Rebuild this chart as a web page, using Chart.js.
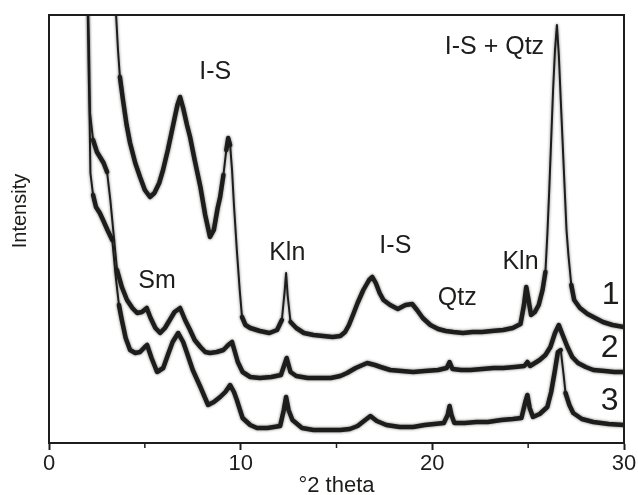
<!DOCTYPE html>
<html>
<head>
<meta charset="utf-8">
<script src="https://cdn.jsdelivr.net/npm/chart.js@4/dist/chart.umd.min.js"></script>
<style>
  html, body { margin: 0; padding: 0; background: #fff; }
</style>
</head>
<body>
<canvas id="xrd" width="638" height="495"></canvas>
<script>
// XRD patterns, °2θ vs intensity (arbitrary units)
const theta1 = [3.40, 3.50, 3.60, 3.70, 3.86, 4.05, 4.23, 4.50, 4.75, 5.00, 5.27, 5.50, 5.75, 5.95, 6.20, 6.50, 6.70, 6.84, 7.00, 7.20,
  7.36, 7.60, 7.90, 8.15, 8.40, 8.60, 8.80, 8.93, 9.10, 9.25, 9.35, 9.45, 9.55, 9.65, 9.80, 9.95, 10.07, 10.25, 10.5, 11.0,
  11.5, 11.9, 12.15, 12.3, 12.37, 12.45, 12.6, 12.9, 13.3, 13.8, 14.3, 14.8, 15.2, 15.45, 15.65, 15.9, 16.1, 16.4, 16.7, 16.87,
  17.05, 17.25, 17.45, 17.8, 18.2, 18.6, 18.95, 19.2, 19.5, 19.9, 20.3, 20.7, 21.1, 21.6, 22.1, 22.6, 23.1, 23.7, 24.2, 24.6,
  24.78, 24.9, 25.02, 25.15, 25.35, 25.55, 25.75, 25.9, 26.0, 26.1, 26.2, 26.3, 26.4, 26.5, 26.6, 26.7, 26.85, 27.0, 27.1, 27.25,
  27.4, 27.7, 28.1, 28.5, 28.9, 29.4, 30.0];
const int1 = [463, 428, 393, 366, 343, 318, 300, 280, 266, 253, 246, 250, 260, 273, 293, 320, 338, 346, 335, 318,
  306, 283, 256, 228, 206, 213, 235, 246, 268, 293, 305, 298, 273, 238, 193, 153, 126, 118, 115, 112,
  110, 113, 123, 153, 170, 148, 121, 115, 110, 108, 107, 106, 107, 111, 118, 130, 140, 153, 163, 166,
  160, 150, 143, 138, 134, 138, 139, 133, 125, 118, 114, 112, 111, 110, 111, 111, 112, 113, 115, 119,
  138, 156, 143, 128, 131, 138, 153, 171, 208, 253, 303, 353, 393, 418, 388, 343, 278, 213, 188, 158,
  143, 135, 129, 125, 121, 118, 116];

const theta2 = [2.00, 2.08, 2.14, 2.30, 2.50, 2.66, 2.85, 3.03, 3.20, 3.35, 3.45, 3.55, 3.80, 4.07, 4.35, 4.60, 4.85, 5.10, 5.30, 5.55,
  5.80, 6.05, 6.30, 6.55, 6.84, 7.10, 7.36, 7.60, 7.90, 8.15, 8.40, 8.75, 9.10, 9.35, 9.55, 9.70, 9.85, 10.1, 10.5, 11.0,
  11.6, 12.1, 12.4, 12.6, 12.9, 13.5, 14.1, 14.7, 15.2, 15.55, 16.0, 16.6, 17.0, 17.3, 17.8, 18.4, 19.0, 19.6, 20.3, 20.75,
  20.9, 21.05, 21.5, 22.0, 22.6, 23.2, 23.7, 24.3, 24.8, 24.96, 25.1, 25.6, 25.9, 26.16, 26.4, 26.6, 26.8, 27.05, 27.3, 27.6,
  28.0, 28.4, 29.0, 29.5, 30.0];
const int2 = [463, 403, 330, 303, 291, 286, 280, 271, 243, 213, 193, 173, 156, 143, 135, 130, 131, 135, 125, 115,
  110, 115, 123, 131, 135, 123, 113, 103, 96, 91, 90, 91, 93, 98, 101, 91, 81, 71, 66, 65,
  66, 68, 85, 71, 67, 65, 65, 65, 67, 70, 75, 80, 78, 76, 73, 72, 71, 72, 73, 75,
  81, 74, 73, 73, 74, 75, 75, 76, 77, 81, 77, 83, 88, 96, 110, 118, 108, 96, 86, 80,
  76, 73, 72, 71, 71];

const theta3 = [2.00, 2.06, 2.12, 2.16, 2.30, 2.45, 2.65, 2.82, 3.05, 3.30, 3.50, 3.65, 3.80, 4.00, 4.23, 4.50, 4.75, 5.00, 5.12, 5.35,
  5.64, 5.96, 6.20, 6.45, 6.74, 7.00, 7.20, 7.50, 7.90, 8.30, 8.60, 8.93, 9.20, 9.45, 9.65, 9.80, 10.1, 10.5, 10.85, 11.4,
  12.06, 12.25, 12.37, 12.5, 12.7, 13.2, 13.8, 14.5, 15.2, 15.7, 16.1, 16.5, 16.77, 17.1, 17.6, 18.3, 19.0, 19.6, 20.1, 20.6,
  20.8, 20.9, 21.0, 21.15, 21.7, 22.3, 22.9, 23.6, 24.2, 24.65, 24.85, 24.96, 25.08, 25.25, 25.6, 26.0, 26.2, 26.4, 26.55, 26.7,
  26.85, 26.95, 27.15, 27.35, 27.8, 28.4, 29.2, 30.0];
const int3 = [463, 383, 323, 270, 248, 236, 230, 223, 213, 203, 163, 138, 123, 105, 93, 90, 91, 96, 98, 85,
  71, 75, 88, 101, 110, 101, 90, 73, 56, 38, 41, 46, 51, 58, 51, 43, 25, 18, 15, 15,
  17, 33, 46, 33, 23, 15, 13, 13, 13, 14, 17, 23, 27, 22, 18, 16, 16, 18, 19, 20,
  28, 37, 28, 20, 20, 21, 21, 23, 24, 25, 41, 48, 35, 26, 29, 36, 51, 73, 91, 93,
  68, 50, 38, 30, 24, 21, 19, 18];

// peak labels
const peakNames = ['I-S', 'I-S + Qtz', 'Kln', 'I-S', 'Qtz', 'Kln', 'Sm'];
const peakTheta = [8.67, 23.24, 12.43, 18.07, 21.3, 24.6, 5.64];
const peakInt = [371, 396, 190, 197, 145, 181, 162];

// sample numbers at the right end
const sampleNames = ['1', '2', '3'];
const sampleTheta = [29.3, 29.25, 29.25];
const sampleInt = [148, 95, 42];

const xTicks = [0, 10, 20, 30];
const xMinor = [5, 15, 25];

const ink = '#1d1d1b';
const fontFam = '"Liberation Sans", Arial, sans-serif';

function pattern(theta, inten) {
  return {
    data: theta.map((t, i) => ({ x: t, y: inten[i] })),
    borderColor: ink,
    borderWidth: 4.5,
    pointRadius: 0,
    tension: 0,
    borderJoinStyle: 'round',
    borderCapStyle: 'round',
    segment: {
      // steep flanks are thin in the original, the noisy flats are thick
      borderWidth: c => Math.abs(c.p1.y - c.p0.y) > 8 * Math.abs(c.p1.x - c.p0.x) ? 2 : 4.5
    }
  };
}

// soft grey fringe, like the counting noise around the traces
const fuzzPlugin = {
  id: 'fuzz',
  beforeDatasetsDraw(chart) {
    chart.ctx.save();
    chart.ctx.shadowColor = 'rgba(0,0,0,0.55)';
    chart.ctx.shadowBlur = 3;
  },
  afterDatasetsDraw(chart) {
    chart.ctx.restore();
  }
};

const framePlugin = {
  id: 'frame',
  afterDraw(chart) {
    const { ctx, chartArea: a, scales } = chart;
    ctx.save();
    ctx.strokeStyle = ink;
    ctx.lineWidth = 2;
    ctx.beginPath();
    ctx.moveTo(a.left, a.top);
    ctx.lineTo(a.right, a.top);
    ctx.lineTo(a.right, a.bottom);
    ctx.stroke();
    // minor ticks
    ctx.lineWidth = 1.5;
    xMinor.forEach(v => {
      const x = scales.x.getPixelForValue(v);
      ctx.beginPath();
      ctx.moveTo(x, a.bottom);
      ctx.lineTo(x, a.bottom + 5);
      ctx.stroke();
    });
    // labels
    ctx.fillStyle = ink;
    ctx.textAlign = 'center';
    ctx.textBaseline = 'middle';
    ctx.font = '25px ' + fontFam;
    peakNames.forEach((s, i) => {
      ctx.fillText(s, scales.x.getPixelForValue(peakTheta[i]), scales.y.getPixelForValue(peakInt[i]));
    });
    ctx.font = '32px ' + fontFam;
    sampleNames.forEach((s, i) => {
      ctx.fillText(s, scales.x.getPixelForValue(sampleTheta[i]), scales.y.getPixelForValue(sampleInt[i]));
    });
    // y axis title sits above the middle in the original
    ctx.font = '20px ' + fontFam;
    ctx.translate(20, 211);
    ctx.rotate(-Math.PI / 2);
    ctx.fillText('Intensity', 0, 0);
    ctx.restore();
  }
};

new Chart(document.getElementById('xrd'), {
  type: 'line',
  data: {
    datasets: [pattern(theta1, int1), pattern(theta2, int2), pattern(theta3, int3)]
  },
  options: {
    responsive: false,
    animation: false,
    events: [],
    layout: { padding: { top: 15, right: 14, left: 0, bottom: 0 } },
    plugins: { legend: { display: false }, tooltip: { enabled: false } },
    scales: {
      x: {
        type: 'linear',
        min: 0,
        max: 30,
        afterFit(s) { s.height = 52; },
        afterBuildTicks(s) { s.ticks = xTicks.map(v => ({ value: v })); },
        border: { display: true, color: ink, width: 2 },
        grid: { display: true, drawOnChartArea: false, drawTicks: true, tickLength: 7, tickWidth: 2, tickColor: ink },
        ticks: { color: ink, padding: 1, maxRotation: 0, font: { family: fontFam, size: 22 } },
        title: {
          display: true, text: '°2 theta', color: ink,
          font: { family: fontFam, size: 22, lineHeight: 0.8 },
          padding: { top: 0, bottom: 0 }
        }
      },
      y: {
        type: 'linear',
        min: 0,
        max: 428,
        afterFit(s) { s.width = 49; },
        border: { display: true, color: ink, width: 2 },
        grid: { display: false },
        ticks: { display: false }
      }
    }
  },
  plugins: [fuzzPlugin, framePlugin]
});
</script>
</body>
</html>
